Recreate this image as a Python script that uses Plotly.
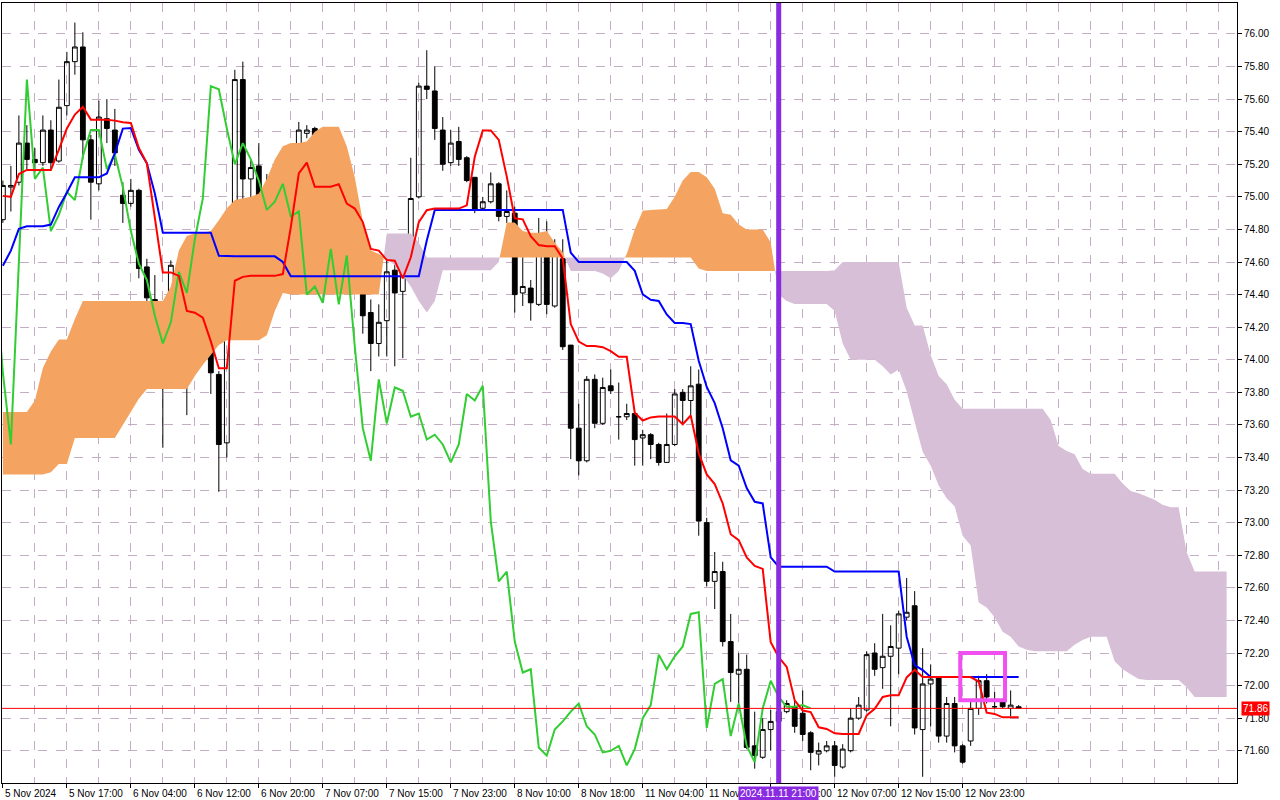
import numpy as np
import plotly.graph_objects as go

# hourly bars, one label every 8 bars
TIME_LABELS = [
    "5 Nov 2024", "5 Nov 17:00", "6 Nov 04:00", "6 Nov 12:00", "6 Nov 20:00",
    "7 Nov 07:00", "7 Nov 15:00", "7 Nov 23:00", "8 Nov 10:00", "8 Nov 18:00",
    "11 Nov 04:00", "11 Nov 12:00", "11 Nov 20:00", "12 Nov 07:00",
    "12 Nov 15:00", "12 Nov 23:00",
]

OPEN = [
    74.86, 75.06, 75.09, 75.33, 75.23, 75.21, 75.41, 75.22, 75.56, 75.83,
    75.92, 75.35, 75.08, 75.48, 75.41, 75.01, 74.96, 75.04, 74.57, 74.37,
    74.02, 74.10, 74.59, 74.15, 74.57, 74.32, 74.52, 73.91, 73.49, 74.62,
    75.72, 75.11, 75.19, 74.79, 74.89, 75.04, 74.83, 75.24, 75.39, 75.42,
    75.18, 75.27, 75.06, 74.80, 74.60, 74.49, 74.29, 74.10, 74.24, 74.55,
    74.42, 74.73, 75.00, 75.68, 75.65, 75.41, 75.21, 75.34, 75.24, 75.12,
    74.93, 74.97, 75.08, 74.88, 74.90, 74.41, 74.44, 74.34, 74.68, 74.33,
    74.62, 74.09, 73.58, 73.38, 73.88, 73.61, 73.84, 73.65, 73.65, 73.67,
    73.52, 73.54, 73.48, 73.37, 73.48, 73.80, 73.75, 73.85, 73.00, 72.64,
    72.70, 72.27, 72.07, 72.10, 71.63, 71.56, 71.73, 71.78, 71.84, 71.87,
    71.83, 71.71, 71.58, 71.60, 71.63, 71.50, 71.60, 71.80, 71.85, 72.20,
    72.11, 72.18, 72.23, 72.42, 72.49, 71.73, 72.01, 72.05, 71.69, 71.89,
    71.63, 71.66, 71.86, 72.03, 71.87, 71.90, 71.86, 71.87,
]
HIGH = [
    75.10, 75.19, 75.50, 75.44, 75.30, 75.50, 75.47, 75.72, 75.89, 76.07,
    76.01, 75.38, 75.59, 75.60, 75.54, 75.09, 75.11, 75.05, 74.62, 74.52,
    74.25, 74.61, 74.62, 74.59, 74.77, 74.54, 74.53, 73.93, 74.72, 75.78,
    75.83, 75.23, 75.33, 75.14, 75.14, 75.08, 75.29, 75.46, 75.44, 75.43,
    75.28, 75.28, 75.11, 74.88, 74.86, 74.54, 74.37, 74.34, 74.66, 74.77,
    74.77, 75.24, 75.70, 75.90, 75.80, 75.49, 75.41, 75.43, 75.25, 75.12,
    75.00, 75.15, 75.09, 75.04, 74.94, 74.63, 74.49, 74.87, 74.85, 74.74,
    74.74, 74.09, 73.73, 73.90, 73.91, 73.89, 73.94, 73.86, 73.73, 73.68,
    73.57, 73.55, 73.49, 73.67, 73.82, 73.82, 73.96, 73.94, 73.03, 72.82,
    72.76, 72.44, 72.20, 72.19, 71.84, 71.80, 71.85, 71.88, 71.91, 71.91,
    71.97, 71.72, 71.65, 71.66, 71.66, 71.64, 71.86, 71.93, 72.21, 72.26,
    72.44, 72.37, 72.46, 72.66, 72.58, 72.23, 72.13, 72.05, 71.93, 71.93,
    71.64, 71.91, 72.06, 72.07, 71.96, 71.92, 71.97, 71.88,
]
LOW = [
    74.84, 74.91, 75.07, 75.17, 75.15, 75.19, 75.17, 75.21, 75.50, 75.75,
    75.23, 74.86, 75.04, 75.33, 75.19, 74.84, 74.94, 74.50, 74.36, 74.01,
    73.46, 74.07, 73.97, 73.66, 74.21, 74.21, 73.79, 73.19, 73.40, 74.60,
    74.83, 74.98, 74.74, 74.64, 74.84, 74.96, 74.78, 75.21, 75.36, 75.16,
    75.13, 74.97, 74.71, 74.49, 74.41, 74.16, 73.93, 74.02, 74.02, 73.96,
    74.01, 74.72, 74.99, 75.60, 75.35, 75.16, 75.19, 75.19, 75.09, 74.90,
    74.92, 74.96, 74.85, 74.84, 74.29, 74.33, 74.24, 74.33, 74.28, 74.32,
    74.06, 73.39, 73.29, 73.37, 73.58, 73.60, 73.79, 73.51, 73.63, 73.35,
    73.35, 73.39, 73.35, 73.37, 73.47, 73.61, 73.66, 72.92, 72.61, 72.47,
    72.24, 71.90, 71.89, 71.61, 71.49, 71.55, 71.60, 71.72, 71.83, 71.71,
    71.66, 71.48, 71.51, 71.59, 71.44, 71.49, 71.59, 71.79, 71.84, 72.06,
    71.98, 71.75, 72.07, 72.40, 71.70, 71.44, 71.75, 71.65, 71.65, 71.59,
    71.52, 71.63, 71.82, 71.89, 71.86, 71.86, 71.81, 71.86,
]
CLOSE = [
    75.07, 75.07, 75.33, 75.23, 75.21, 75.41, 75.21, 75.55, 75.83, 75.92,
    75.35, 75.09, 75.49, 75.42, 75.27, 74.96, 75.04, 74.56, 74.38, 74.03,
    74.09, 74.58, 74.13, 74.58, 74.34, 74.52, 73.92, 73.48, 74.62, 75.72,
    75.11, 75.18, 74.79, 74.89, 75.03, 74.98, 75.25, 75.41, 75.41, 75.17,
    75.26, 75.06, 74.79, 74.59, 74.49, 74.27, 74.10, 74.23, 74.54, 74.41,
    74.74, 74.99, 75.68, 75.66, 75.42, 75.20, 75.33, 75.23, 75.10, 74.92,
    74.97, 75.08, 74.88, 74.91, 74.40, 74.45, 74.35, 74.68, 74.34, 74.64,
    74.08, 73.58, 73.38, 73.88, 73.61, 73.83, 73.81, 73.65, 73.67, 73.51,
    73.54, 73.48, 73.37, 73.48, 73.79, 73.75, 73.84, 73.01, 72.64, 72.70,
    72.27, 72.08, 72.10, 71.62, 71.57, 71.73, 71.78, 71.84, 71.89, 71.75,
    71.70, 71.59, 71.60, 71.63, 71.51, 71.61, 71.80, 71.88, 72.19, 72.10,
    72.18, 72.24, 72.44, 72.45, 71.74, 72.01, 72.04, 71.69, 71.89, 71.63,
    71.53, 71.86, 72.03, 71.93, 71.87, 71.87, 71.88, 71.86,
]

# Ichimoku lines
TENKAN = [
    75.006, 75.00, 75.14, 75.165, 75.165, 75.165, 75.165, 75.29, 75.42, 75.505,
    75.553, 75.474, 75.474, 75.474, 75.468, 75.458, 75.454, 75.30, 75.206, 74.876,
    74.536, 74.536, 74.515, 74.30, 74.289, 74.258, 74.113, 73.948, 73.948, 74.485,
    74.509, 74.515, 74.515, 74.515, 74.515, 74.526, 74.814, 75.144, 75.21, 75.062,
    75.062, 75.062, 75.078, 74.959, 74.928, 74.845, 74.68, 74.67, 74.612, 74.608,
    74.50, 74.629, 74.845, 74.918, 74.928, 74.928, 74.928, 74.928, 74.948, 75.247,
    75.408, 75.408, 75.35, 75.124, 74.868, 74.862, 74.758, 74.704, 74.697, 74.697,
    74.621, 74.219, 74.112, 74.084, 74.084, 74.077, 74.053, 74.018, 74.018, 73.675,
    73.627, 73.646, 73.651, 73.651, 73.651, 73.604, 73.658, 73.426, 73.296, 73.237,
    73.118, 72.929, 72.893, 72.787, 72.735, 72.716, 72.266, 72.175, 72.115, 71.909,
    71.847, 71.837, 71.744, 71.734, 71.707, 71.703, 71.703, 71.703, 71.817, 71.858,
    71.93, 71.94, 71.94, 72.05, 72.097, 72.052, 72.052, 72.052, 72.052, 72.052,
    72.052, 72.052, 72.025, 71.834, 71.826, 71.805, 71.805, 71.805,
]
KIJUN = [
    74.577, 74.67, 74.804, 74.82, 74.82, 74.82, 74.83, 74.938, 75.025, 75.12,
    75.12, 75.12, 75.12, 75.144, 75.268, 75.419, 75.423, 75.289, 75.206, 75.021,
    74.78, 74.78, 74.78, 74.78, 74.78, 74.78, 74.78, 74.639, 74.635, 74.635,
    74.635, 74.635, 74.635, 74.635, 74.635, 74.60, 74.513, 74.513, 74.513, 74.513,
    74.513, 74.513, 74.513, 74.513, 74.513, 74.513, 74.513, 74.513, 74.513, 74.513,
    74.513, 74.513, 74.513, 74.732, 74.92, 74.92, 74.92, 74.92, 74.92, 74.92,
    74.92, 74.92, 74.92, 74.92, 74.92, 74.92, 74.92, 74.92, 74.92, 74.92,
    74.92, 74.657, 74.60, 74.60, 74.60, 74.60, 74.60, 74.60, 74.60, 74.546,
    74.401, 74.368, 74.361, 74.278, 74.226, 74.226, 74.219, 73.994, 73.833, 73.734,
    73.58, 73.383, 73.35, 73.213, 73.128, 73.118, 72.787, 72.73, 72.73, 72.73,
    72.73, 72.73, 72.73, 72.73, 72.70, 72.70, 72.70, 72.70, 72.70, 72.70,
    72.70, 72.70, 72.70, 72.30, 72.126, 72.095, 72.052, 72.052, 72.052, 72.052,
    72.052, 72.052, 72.052, 72.052, 72.052, 72.052, 72.052, 72.052,
]
# senkou spans, already plotted 26 bars ahead (154 points)
SPAN_A = [
    73.68, 73.68, 73.68, 73.68, 73.75, 73.95, 74.05, 74.125, 74.125, 74.25,
    74.36, 74.36, 74.36, 74.36, 74.36, 74.36, 74.36, 74.36, 74.36, 74.36,
    74.36, 74.45, 74.67, 74.76, 74.777, 74.78, 74.79, 74.856, 74.93, 74.98,
    74.99, 75.00, 75.02, 75.11, 75.23, 75.31, 75.33, 75.33, 75.34, 75.40,
    75.43, 75.43, 75.43, 75.31, 75.12, 74.85, 74.67, 74.65, 74.62, 74.58,
    74.52, 74.45, 74.36, 74.29, 74.36, 74.55, 74.55, 74.55, 74.55, 74.55,
    74.55, 74.55, 74.60, 74.843, 74.843, 74.79, 74.78, 74.78, 74.79, 74.72,
    74.66, 74.545, 74.545, 74.545, 74.545, 74.53, 74.50, 74.545, 74.65, 74.80,
    74.915, 74.92, 74.925, 74.926, 75.00, 75.10, 75.153, 75.153, 75.12, 75.05,
    74.90, 74.89, 74.83, 74.80, 74.80, 74.80, 74.72, 74.40, 74.36, 74.342,
    74.342, 74.342, 74.342, 74.342, 74.30, 74.10, 74.00, 74.00, 74.00, 74.00,
    73.96, 73.91, 73.94, 73.806, 73.62, 73.435, 73.35, 73.228, 73.15, 73.10,
    72.92, 72.86, 72.51, 72.48, 72.42, 72.33, 72.30, 72.24, 72.22, 72.21,
    72.21, 72.21, 72.21, 72.21, 72.25, 72.28, 72.30, 72.30, 72.30, 72.15,
    72.10, 72.07, 72.04, 72.035, 72.035, 72.035, 72.035, 72.035, 71.99, 71.93,
    71.93, 71.93, 71.93, 71.93,
]
SPAN_B = [
    73.295, 73.295, 73.295, 73.295, 73.295, 73.295, 73.31, 73.36, 73.36, 73.52,
    73.52, 73.52, 73.52, 73.52, 73.52, 73.60, 73.68, 73.76, 73.82, 73.82,
    73.82, 73.82, 73.82, 73.82, 73.90, 73.97, 74.03, 74.09, 74.12, 74.12,
    74.12, 74.12, 74.12, 74.15, 74.30, 74.41, 74.40, 74.40, 74.40, 74.40,
    74.40, 74.40, 74.40, 74.40, 74.40, 74.40, 74.40, 74.40, 74.775, 74.775,
    74.775, 74.775, 74.72, 74.627, 74.627, 74.627, 74.627, 74.627, 74.627, 74.627,
    74.627, 74.627, 74.627, 74.627, 74.627, 74.627, 74.627, 74.627, 74.627, 74.627,
    74.627, 74.627, 74.627, 74.627, 74.627, 74.627, 74.627, 74.627, 74.627, 74.627,
    74.627, 74.627, 74.627, 74.627, 74.627, 74.627, 74.627, 74.56, 74.545, 74.545,
    74.545, 74.545, 74.545, 74.545, 74.545, 74.545, 74.545, 74.545, 74.545, 74.545,
    74.545, 74.545, 74.545, 74.545, 74.55, 74.60, 74.60, 74.60, 74.60, 74.60,
    74.60, 74.60, 74.60, 74.32, 74.21, 74.21, 74.03, 73.90, 73.85, 73.755,
    73.70, 73.70, 73.70, 73.70, 73.70, 73.70, 73.70, 73.70, 73.70, 73.70,
    73.70, 73.63, 73.47, 73.44, 73.42, 73.33, 73.30, 73.30, 73.30, 73.30,
    73.24, 73.195, 73.18, 73.16, 73.14, 73.11, 73.095, 73.095, 72.82, 72.70,
    72.70, 72.70, 72.70, 72.70,
]

CHIKOU_SHIFT = 26
CURSOR_BAR = 97
CURSOR_TEXT = "2024.11.11 21:00"
BID = 71.86
BOX_BARS = [119.7, 125.3]
BOX_PRICES = [71.91, 72.20]

GRID = "#C4AEC4"
FONT = "Liberation Sans"

bars = np.arange(len(CLOSE))
fig = go.Figure()

# kumo: split the area between span A and B where they cross
a = np.array(SPAN_A)
b = np.array(SPAN_B)
d = a - b
segs = []
xs, ta, tb = [0.0], [a[0]], [b[0]]
up = d[0] >= 0
for k in range(1, len(a)):
    now = d[k] >= 0
    if now != up:
        t = d[k - 1] / (d[k - 1] - d[k])
        xc = k - 1 + t
        yc = a[k - 1] + t * (a[k] - a[k - 1])
        xs.append(xc); ta.append(yc); tb.append(yc)
        segs.append((up, xs, ta, tb))
        xs, ta, tb = [xc], [yc], [yc]
        up = now
    xs.append(float(k)); ta.append(a[k]); tb.append(b[k])
segs.append((up, xs, ta, tb))

for up, xs, ta, tb in segs:
    fig.add_trace(go.Scatter(
        x=xs + xs[::-1], y=ta + tb[::-1],
        fill="toself", mode="lines", line=dict(width=0),
        fillcolor="#F4A460" if up else "#D8BFD8",
        hoverinfo="skip", showlegend=False,
    ))

fig.add_trace(go.Candlestick(
    x=bars, open=OPEN, high=HIGH, low=LOW, close=CLOSE,
    increasing=dict(line=dict(color="black", width=1), fillcolor="rgba(0,0,0,0)"),
    decreasing=dict(line=dict(color="black", width=1), fillcolor="black"),
    whiskerwidth=0, hoverinfo="skip", showlegend=False,
))

fig.add_trace(go.Scatter(x=bars - CHIKOU_SHIFT, y=CLOSE, mode="lines",
                         line=dict(color="#32CD32", width=2), showlegend=False))
fig.add_trace(go.Scatter(x=bars, y=KIJUN, mode="lines",
                         line=dict(color="#0000FF", width=2), showlegend=False))
fig.add_trace(go.Scatter(x=bars, y=TENKAN, mode="lines",
                         line=dict(color="#FF0000", width=2), showlegend=False))

fig.add_hline(y=BID, line=dict(color="#FF0000", width=1))
fig.add_vline(x=CURSOR_BAR, line=dict(color="#8A2BE2", width=5))
fig.add_shape(type="rect", x0=BOX_BARS[0], x1=BOX_BARS[1], y0=BOX_PRICES[0], y1=BOX_PRICES[1],
              line=dict(color="#F050F0", width=4))

for k, lab in enumerate(TIME_LABELS):
    fig.add_annotation(x=8 * k, y=0, xref="x", yref="paper", text=lab,
                       showarrow=False, xanchor="left", yanchor="top",
                       xshift=0, yshift=-3, font=dict(size=10, color="black"))
fig.add_annotation(x=CURSOR_BAR, y=0, xref="x", yref="paper", text=CURSOR_TEXT,
                   showarrow=False, xanchor="center", yanchor="top", yshift=-3,
                   bgcolor="#8A2BE2", borderpad=1, font=dict(size=10, color="white"))
fig.add_annotation(x=1, y=BID, xref="paper", yref="y", text=f"{BID:.2f}",
                   showarrow=False, xanchor="left", yanchor="middle", xshift=4,
                   bgcolor="#FF0000", borderpad=1, font=dict(size=10, color="white"))

fig.update_layout(
    width=1280, height=800,
    margin=dict(l=2, r=43, t=3, b=17),
    paper_bgcolor="white", plot_bgcolor="white",
    font=dict(family=FONT, size=10, color="black"),
    showlegend=False,
    boxgap=0.4, boxgroupgap=0,
    xaxis=dict(
        range=[-0.11, 154.3], rangeslider=dict(visible=False),
        tickmode="array", tickvals=[8 * k for k in range(len(TIME_LABELS))],
        showticklabels=False, ticks="outside", ticklen=4, tickcolor="black",
        showgrid=True, gridcolor=GRID, griddash="dash", gridwidth=1,
        minor=dict(dtick=4, tick0=0, showgrid=True, gridcolor=GRID, griddash="dash", ticks=""),
        zeroline=False, showline=True, linecolor="black", linewidth=1, mirror=True,
    ),
    yaxis=dict(
        range=[71.402, 76.19], side="right",
        tick0=71.6, dtick=0.2, tickformat=".2f",
        ticks="outside", ticklen=4, tickcolor="black",
        showgrid=True, gridcolor=GRID, griddash="dash", gridwidth=1,
        zeroline=False, showline=True, linecolor="black", linewidth=1, mirror=True,
    ),
)

# the page body keeps a default 8px margin; drop it so the figure fills the window
fig.write_html("out.html", config={"displayModeBar": False},
               post_script="document.body.style.margin='0';")
